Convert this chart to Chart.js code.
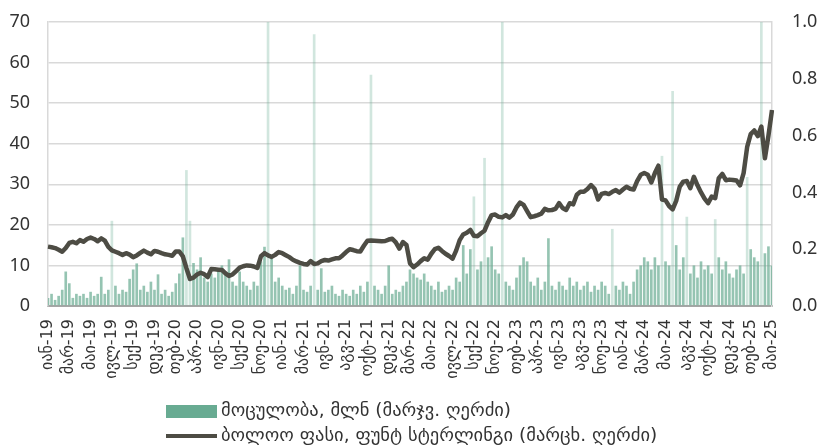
<!DOCTYPE html>
<html>
<head>
<meta charset="utf-8">
<script src="https://cdn.jsdelivr.net/npm/chart.js@4.4.1/dist/chart.umd.min.js"></script>
<style>
  html, body { margin: 0; padding: 0; background: #fff; }
  #wrap { width: 820px; height: 447px; position: relative; }
</style>
</head>
<body>
<div id="wrap"><canvas id="myChart"></canvas></div>
<script>
// tick labels along the x axis (one every 6 points)
var tickLabels = ['იან-19','მარ-19','მაი-19','ივლ-19','სექ-19','დეკ-19','თებ-20','აპრ-20','ივნ-20','სექ-20','ნოე-20',
  'იან-21','მარ-21','ივნ-21','აგვ-21','ოქტ-21','დეკ-21','მარ-22','მაი-22','ივლ-22','სექ-22','ნოე-22',
  'თებ-23','აპრ-23','ივნ-23','აგვ-23','ნოე-23','იან-24','მარ-24','მაი-24','აგვ-24','ოქტ-24','დეკ-24','თებ-25','მაი-25'];
var pointsPerTick = 6;

// closing price, GBP
var price = [
  0.209, 0.207, 0.204, 0.198, 0.191, 0.204, 0.222, 0.226, 0.221, 0.232,
  0.226, 0.236, 0.241, 0.236, 0.228, 0.238, 0.230, 0.208, 0.196, 0.191,
  0.186, 0.180, 0.186, 0.181, 0.172, 0.178, 0.187, 0.195, 0.188, 0.182,
  0.194, 0.191, 0.186, 0.182, 0.180, 0.177, 0.192, 0.192, 0.175, 0.133,
  0.095, 0.100, 0.111, 0.117, 0.112, 0.102, 0.130, 0.129, 0.128, 0.127,
  0.115, 0.106, 0.111, 0.123, 0.135, 0.140, 0.143, 0.142, 0.139, 0.134,
  0.175, 0.186, 0.178, 0.173, 0.180, 0.190, 0.186, 0.179, 0.172, 0.163,
  0.157, 0.152, 0.148, 0.146, 0.158, 0.148, 0.150, 0.158, 0.162, 0.160,
  0.164, 0.168, 0.168, 0.178, 0.190, 0.200, 0.197, 0.193, 0.192, 0.212,
  0.230, 0.231, 0.230, 0.229, 0.228, 0.229, 0.234, 0.237, 0.224, 0.202,
  0.225, 0.215, 0.150, 0.137, 0.146, 0.158, 0.168, 0.163, 0.184, 0.200,
  0.205, 0.194, 0.184, 0.176, 0.167, 0.195, 0.232, 0.252, 0.258, 0.268,
  0.247, 0.246, 0.256, 0.265, 0.295, 0.320, 0.322, 0.314, 0.312, 0.320,
  0.311, 0.322, 0.347, 0.364, 0.356, 0.334, 0.313, 0.316, 0.320, 0.325,
  0.342, 0.337, 0.338, 0.342, 0.362, 0.345, 0.338, 0.362, 0.358, 0.392,
  0.402, 0.402, 0.412, 0.426, 0.413, 0.375, 0.395, 0.398, 0.394, 0.402,
  0.408, 0.399, 0.410, 0.420, 0.413, 0.410, 0.440, 0.462, 0.468, 0.462,
  0.435, 0.468, 0.494, 0.375, 0.372, 0.352, 0.340, 0.370, 0.420, 0.438,
  0.440, 0.415, 0.455, 0.425, 0.400, 0.378, 0.362, 0.385, 0.380, 0.450,
  0.465, 0.443, 0.445, 0.444, 0.442, 0.425, 0.468, 0.560, 0.605, 0.618,
  0.598, 0.632, 0.520, 0.600, 0.690
];

// traded volume, mln
var volume = [
  2, 3, 1.5, 2.5, 4, 8.5, 5.6, 2, 3, 2.5,
  3, 2, 3.5, 2.5, 3, 7.2, 3, 4, 21, 5,
  3, 4, 3.5, 6.7, 9, 10.5, 4, 5, 3.5, 6,
  4, 7.8, 3, 4, 2.5, 3.5, 5.6, 8, 16.9, 33.5,
  21, 10.6, 9, 12, 7, 6, 8, 7, 9, 10,
  8, 11.5, 6, 5, 8.5, 6, 5, 4, 6, 5,
  11, 14.6, 70, 12, 6, 7, 5, 4, 4.5, 3,
  5, 10, 4, 3.5, 5, 67, 4, 9.3, 3.5, 4,
  5, 3, 2.5, 4, 3, 2.5, 4, 3, 5, 3.5,
  6, 57, 5, 4, 3, 5, 10, 3, 4, 3.5,
  5, 6, 9, 8, 7, 6.5, 8, 6, 5, 4,
  6, 3.5, 4, 5, 4, 7, 6, 15, 8, 14,
  27, 9, 11, 36.5, 12, 14.7, 9, 8, 70, 6,
  5, 4, 7, 10, 12, 11, 6, 5, 7, 4,
  6, 16.7, 5, 4, 6, 5, 4, 7, 5, 6,
  4, 5, 6, 3.5, 5, 4, 6, 5, 3, 19,
  5, 4, 6, 5, 3, 6, 9, 10, 12, 11,
  9, 12, 10, 37, 11, 10, 53, 15, 9, 12,
  22, 8, 10, 7, 11, 9, 10, 8, 21.4, 12,
  9, 11, 8, 7, 9, 10, 8, 31.8, 14, 12,
  11, 70, 13, 14.7, 10
];

var volLabel = 'მოცულობა, მლნ (მარჯვ. ღერძი)';
var priceLabel = 'ბოლოო ფასი, ფუნტ სტერლინგი (მარცხ. ღერძი)';

var green = '#68ab92';
var dark = '#4d4c44';

var categories = price.map(function (v, i) {
    return i % pointsPerTick === 0 ? tickLabels[i / pointsPerTick] : '';
});

// legend drawn by hand: two rows, left aligned
var legendPlugin = {
    id: 'stackedLegend',
    afterDraw: function (chart) {
        var c = chart.ctx;
        c.save();
        c.fillStyle = green;
        c.fillRect(166, 405, 51, 13);
        c.strokeStyle = dark;
        c.lineWidth = 4;
        c.beginPath();
        c.moveTo(166, 436);
        c.lineTo(217, 436);
        c.stroke();
        c.fillStyle = '#333';
        c.font = '18.5px "DejaVu Sans", sans-serif';
        c.textBaseline = 'middle';
        c.fillText(volLabel, 221, 411);
        c.fillText(priceLabel, 221, 436);
        c.restore();
    }
};

// keep the tick padding from pushing the plot area down
function fixVertical(s) {
    s.width = 48;
    s.paddingTop = 11;
    s.paddingBottom = 11;
}

var ctx = document.getElementById('myChart').getContext('2d');
var chart = new Chart(ctx, {
    type: 'bar',
    data: {
        labels: categories,
        datasets: [{
            type: 'line',
            label: priceLabel,
            data: price,
            yAxisID: 'y1',
            borderColor: dark,
            backgroundColor: dark,
            borderWidth: 4.5,
            borderJoinStyle: 'round',
            pointRadius: 0,
            tension: 0,
            order: 0
        },
        {
            label: volLabel,
            data: volume,
            yAxisID: 'y',
            backgroundColor: function (c) {
                return c.raw > 18 ? 'rgba(104,171,146,0.3)' : 'rgba(104,171,146,0.7)';
            },
            barPercentage: 0.75,
            categoryPercentage: 1,
            order: 1
        }]
    },
    options: {
        responsive: true,
        maintainAspectRatio: false,
        animation: false,
        layout: { padding: { top: 22, left: 0, right: 0, bottom: 0 } },
        plugins: {
            legend: { display: false },
            tooltip: { enabled: false }
        },
        scales: {
            x: {
                offset: false,
                grid: { display: false, drawTicks: false },
                border: { color: '#a6a6a6', width: 2 },
                ticks: {
                    autoSkip: false,
                    minRotation: 90,
                    maxRotation: 90,
                    padding: 13,
                    color: '#333',
                    font: { size: 16, family: '"DejaVu Sans", sans-serif' }
                },
                afterFit: function (s) { s.height = 141; }
            },
            y: {
                position: 'left',
                min: 0,
                max: 70,
                ticks: {
                    stepSize: 10,
                    padding: 18,
                    color: '#333',
                    font: { size: 18, family: '"Noto Sans", sans-serif' }
                },
                grid: { color: '#d9d9d9', lineWidth: 1.5, drawTicks: false },
                border: { color: '#d9d9d9', width: 1.5 },
                afterFit: fixVertical
            },
            y1: {
                position: 'right',
                min: 0,
                max: 1,
                ticks: {
                    stepSize: 0.2,
                    padding: 20,
                    color: '#333',
                    font: { size: 18, family: '"Noto Sans", sans-serif' },
                    callback: function (v) { return v.toFixed(1); }
                },
                grid: { display: false, drawTicks: false },
                border: { color: '#d9d9d9', width: 1.5 },
                afterFit: fixVertical
            }
        }
    },
    plugins: [legendPlugin]
});
</script>
</body>
</html>
